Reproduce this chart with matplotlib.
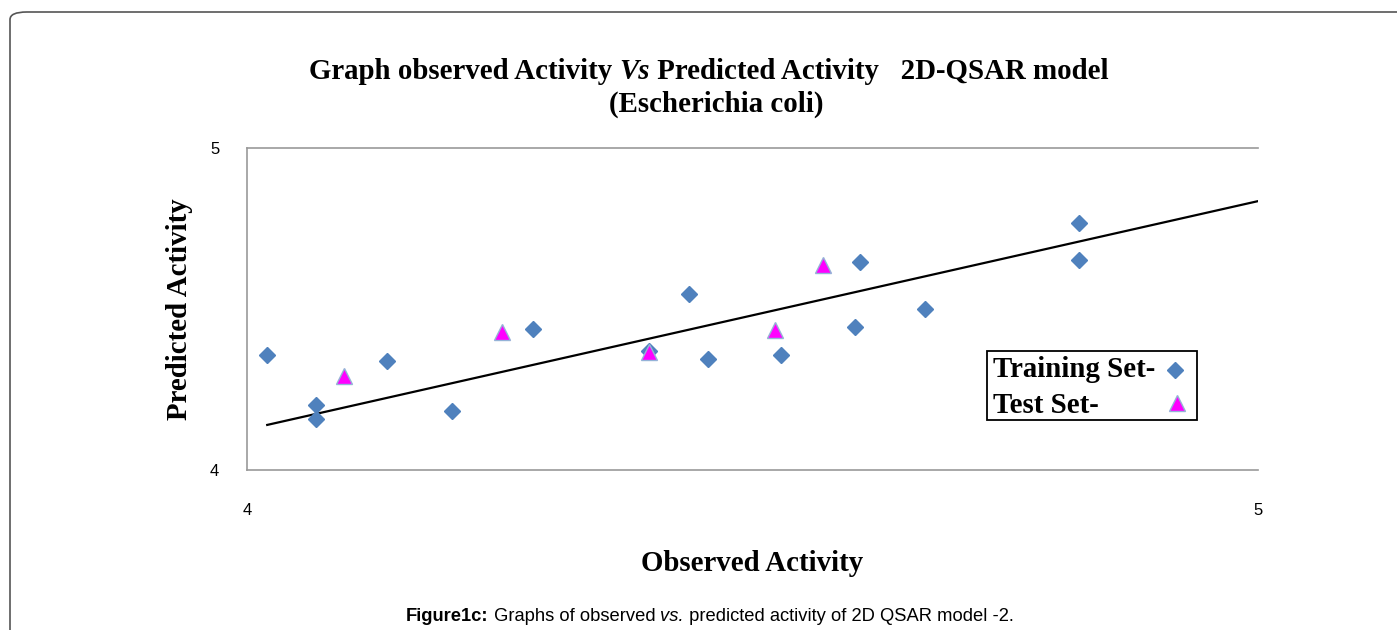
import matplotlib
matplotlib.use("Agg")
import matplotlib.pyplot as plt
from matplotlib.patches import FancyBboxPatch, Rectangle
from matplotlib.lines import Line2D

# Observed vs predicted activity
train_obs = [4.020, 4.068, 4.068, 4.138, 4.203, 4.283, 4.437, 4.456, 4.398,
             4.528, 4.601, 4.606, 4.671, 4.823, 4.823]
train_pred = [4.357, 4.202, 4.158, 4.339, 4.183, 4.438, 4.547, 4.345, 4.370,
              4.357, 4.444, 4.646, 4.500, 4.767, 4.652]
test_obs = [4.096, 4.252, 4.398, 4.522, 4.570]
test_pred = [4.292, 4.429, 4.366, 4.435, 4.637]

# Trend line end points
trend_x = [4.02, 5.0]
trend_y = [4.140, 4.835]

W, H = 1397, 630
fig = plt.figure(figsize=(W / 100, H / 100), dpi=100)
renderer = fig.canvas.get_renderer()

serif = "Liberation Serif"
sans = "Liberation Sans"
big = 20.8

# page frame with rounded corner
frame = FancyBboxPatch((10 / W, -0.2), 1.2, 0.2 + (H - 12) / H,
                       boxstyle="round,pad=0,rounding_size=0.012",
                       transform=fig.transFigure, facecolor="none",
                       edgecolor="#555555", linewidth=1.2)
fig.patches.append(frame)

ax = fig.add_axes([247 / W, 160 / H, (1258 - 247) / W, (470 - 148) / H])
ax.set_xlim(4, 5)
ax.set_ylim(4, 5)
ax.set_xticks([4, 5])
ax.set_yticks([4, 5])
ax.tick_params(length=0, labelsize=12)
ax.tick_params(axis="x", pad=24)
ax.tick_params(axis="y", pad=20)
for lab in ax.get_xticklabels() + ax.get_yticklabels():
    lab.set_family(sans)
ax.spines["right"].set_visible(False)
for s in ["left", "top", "bottom"]:
    ax.spines[s].set_color("#999999")
    ax.spines[s].set_linewidth(1.2)

ax.plot(trend_x, trend_y, color="black", linewidth=1.6, zorder=2)
ax.plot(train_obs, train_pred, linestyle="none", marker="D", markersize=8.5,
        color="#4F81BD", markeredgecolor="#4F81BD", zorder=3)
ax.plot(test_obs, test_pred, linestyle="none", marker="^", markersize=12,
        color="#FF00FF", markeredgecolor="#95B3D7", markeredgewidth=1, zorder=4)

ax.set_xlabel("Observed Activity", fontsize=big, fontweight="bold",
              family=serif, labelpad=23)
ax.set_ylabel("Predicted Activity", fontsize=big, fontweight="bold",
              family=serif, labelpad=12)


def centered_pieces(pieces, xc, y, **common):
    # draw several text runs side by side, centred as one line
    texts = [fig.text(0, y, s, transform=fig.transFigure, va="baseline", **common, **kw)
             for s, kw in pieces]
    widths = [t.get_window_extent(renderer).width for t in texts]
    x = xc * W - sum(widths) / 2
    for t, w in zip(texts, widths):
        t.set_x(x / W)
        x += w


centered_pieces([("Graph observed Activity ", {}),
                 ("Vs", {"style": "italic"}),
                 (" Predicted Activity   2D-QSAR model", {})],
                709 / W, 1 - 79 / H, family=serif, fontweight="bold", fontsize=big)
fig.text(716 / W, 1 - 112 / H, "(Escherichia coli)", family=serif,
         fontweight="bold", fontsize=big, ha="center", va="baseline")

# legend box
lx0, lx1, ly0, ly1 = 987 / W, 1197 / W, 1 - 420 / H, 1 - 351 / H
fig.patches.append(Rectangle((lx0, ly0), lx1 - lx0, ly1 - ly0,
                             transform=fig.transFigure, facecolor="white",
                             edgecolor="black", linewidth=1.3, zorder=5))
fig.text(993 / W, 1 - 377 / H, "Training Set-", family=serif, fontweight="bold",
         fontsize=big, va="baseline", zorder=6)
fig.text(993 / W, 1 - 413 / H, "Test Set-", family=serif, fontweight="bold",
         fontsize=big, va="baseline", zorder=6)
fig.lines.append(Line2D([1175 / W], [1 - 370 / H], transform=fig.transFigure,
                        marker="D", markersize=8.5, color="#4F81BD", zorder=6))
fig.lines.append(Line2D([1177 / W], [1 - 403 / H], transform=fig.transFigure,
                        marker="^", markersize=12, color="#FF00FF",
                        markeredgecolor="#95B3D7", zorder=6))

centered_pieces([("Figure1c:", {"fontweight": "bold"}),
                 (" Graphs of observed ", {}),
                 ("vs.", {"style": "italic"}),
                 (" predicted activity of 2D QSAR model -2.", {})],
                710 / W, 1 - 621 / H, family=sans, fontsize=13.2)

fig.savefig("out.png", dpi=100)
